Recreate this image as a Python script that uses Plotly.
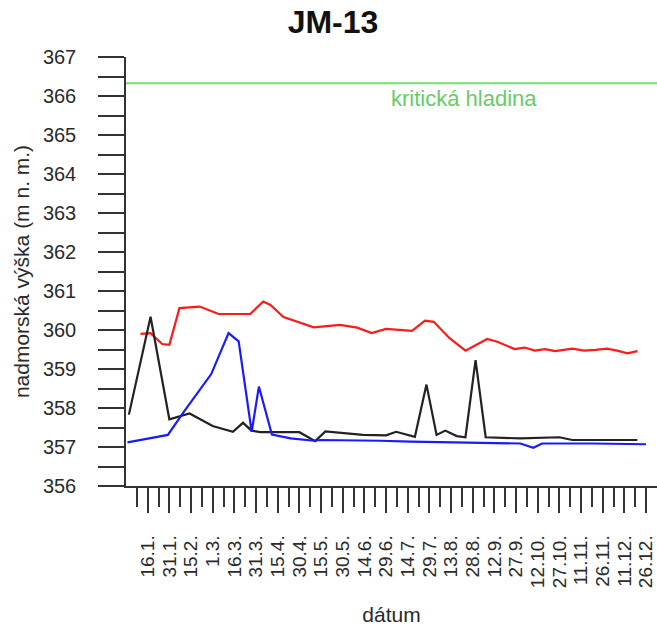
import pandas as pd
import plotly.graph_objects as go

# --- data -------------------------------------------------------------
red_dates = ["2016-01-11", "2016-01-18", "2016-01-26", "2016-01-31", "2016-02-07",
             "2016-02-21", "2016-03-05", "2016-03-27", "2016-04-05", "2016-04-10",
             "2016-04-19", "2016-05-10", "2016-05-28", "2016-06-09", "2016-06-19",
             "2016-06-29", "2016-07-17", "2016-07-26", "2016-08-01", "2016-08-12",
             "2016-08-23", "2016-09-07", "2016-09-14", "2016-09-26", "2016-10-03",
             "2016-10-10", "2016-10-17", "2016-10-24", "2016-11-05", "2016-11-13",
             "2016-11-21", "2016-11-29", "2016-12-06", "2016-12-13", "2016-12-20"]
red_values = [359.90, 359.92, 359.64, 359.62, 360.56,
              360.60, 360.41, 360.41, 360.73, 360.64,
              360.33, 360.07, 360.13, 360.06, 359.92,
              360.03, 359.98, 360.24, 360.21, 359.79,
              359.47, 359.77, 359.70, 359.51, 359.55,
              359.47, 359.51, 359.46, 359.52, 359.47,
              359.49, 359.52, 359.47, 359.40, 359.46]

black_dates = ["2016-01-03", "2016-01-18", "2016-01-31", "2016-02-14", "2016-03-01",
               "2016-03-15", "2016-03-22", "2016-03-28", "2016-04-03", "2016-04-30",
               "2016-05-11", "2016-05-18", "2016-06-13", "2016-06-29", "2016-07-06",
               "2016-07-19", "2016-07-27", "2016-08-03", "2016-08-09", "2016-08-17",
               "2016-08-23", "2016-08-30", "2016-09-06", "2016-09-30", "2016-10-27",
               "2016-11-05", "2016-12-20"]
black_values = [357.83, 360.34, 357.71, 357.86, 357.54,
                357.39, 357.62, 357.42, 357.38, 357.38,
                357.15, 357.40, 357.31, 357.30, 357.39,
                357.26, 358.60, 357.31, 357.42, 357.28,
                357.25, 359.23, 357.25, 357.22, 357.25,
                357.18, 357.18]

blue_dates = ["2016-01-02", "2016-01-20", "2016-01-30", "2016-02-10", "2016-02-29",
              "2016-03-12", "2016-03-19", "2016-03-28", "2016-04-02", "2016-04-11",
              "2016-04-24", "2016-05-10", "2016-05-15", "2016-06-25", "2016-07-16",
              "2016-09-30", "2016-10-09", "2016-10-15", "2016-11-19", "2016-12-26"]
blue_values = [357.12, 357.25, 357.31, 357.90, 358.87,
               359.92, 359.71, 357.39, 358.55, 357.32,
               357.22, 357.16, 357.18, 357.16, 357.14,
               357.09, 356.98, 357.09, 357.09, 357.07]

critical_level = 366.33
critical_label = "kritická hladina"

tick_labels = ["16.1.", "31.1.", "15.2.", "1.3.", "16.3.", "31.3.", "15.4.", "30.4.",
               "15.5.", "30.5.", "14.6.", "29.6.", "14.7.", "29.7.", "13.8.", "28.8.",
               "12.9.", "27.9.", "12.10.", "27.10.", "11.11.", "26.11.", "11.12.", "26.12."]
tick_dates = ["2016-01-16", "2016-01-31", "2016-02-15", "2016-03-01", "2016-03-16",
              "2016-03-31", "2016-04-15", "2016-04-30", "2016-05-15", "2016-05-30",
              "2016-06-14", "2016-06-29", "2016-07-14", "2016-07-29", "2016-08-13",
              "2016-08-28", "2016-09-12", "2016-09-27", "2016-10-12", "2016-10-27",
              "2016-11-11", "2016-11-26", "2016-12-11", "2016-12-26"]

# half-way ticks between the labelled ones
minor_ticks = [pd.Timestamp(d) - pd.Timedelta(hours=180) for d in tick_dates]

FONT = "Liberation Sans, Arial, sans-serif"
AXIS = "#333333"

fig = go.Figure()
fig.add_trace(go.Scatter(x=red_dates, y=red_values, mode="lines",
                         line=dict(color="#ff1a1a", width=2.2), showlegend=False))
fig.add_trace(go.Scatter(x=black_dates, y=black_values, mode="lines",
                         line=dict(color="#222222", width=2.2), showlegend=False))
fig.add_trace(go.Scatter(x=blue_dates, y=blue_values, mode="lines",
                         line=dict(color="#1a1aff", width=2.2), showlegend=False))

fig.add_shape(type="line", xref="paper", x0=0, x1=1, yref="y",
              y0=critical_level, y1=critical_level,
              line=dict(color="#77dd77", width=2))
fig.add_annotation(x="2016-08-22", y=critical_level, yref="y", xref="x",
                   text=critical_label, showarrow=False, yshift=-15,
                   font=dict(family=FONT, size=22, color="#66cc66"))

x_start = pd.Timestamp("2016-01-01")
x_end = x_start + pd.Timedelta(days=367.6)

fig.update_layout(
    width=657, height=628,
    margin=dict(l=126, r=0, t=57, b=142),
    paper_bgcolor="white", plot_bgcolor="white",
    font=dict(family=FONT, color="#2a2a2a", size=20),
    title=dict(text="<b>JM-13</b>", x=333 / 657, xanchor="center",
               y=1 - 22 / 628, yanchor="middle",
               font=dict(family=FONT, size=32, color="#111111")),
    xaxis=dict(
        type="date", range=[x_start, x_end],
        showgrid=False, zeroline=False,
        showline=True, linecolor=AXIS, linewidth=1.5,
        ticks="outside", ticklen=25, tickwidth=1.5, tickcolor=AXIS,
        tickmode="array", tickvals=tick_dates, ticktext=tick_labels,
        tickangle=-90, tickfont=dict(size=19),
        ticklabelstandoff=15,
        minor=dict(tickmode="array", tickvals=minor_ticks, ticks="outside",
                   ticklen=19, tickwidth=1.5, tickcolor=AXIS, showgrid=False),
        title=dict(text="dátum", font=dict(size=21), standoff=20),
    ),
    yaxis=dict(
        range=[356, 367],
        showgrid=False, zeroline=False,
        showline=True, linecolor=AXIS, linewidth=1.5,
        ticks="outside", ticklen=26, tickwidth=1.5, tickcolor=AXIS,
        tickmode="linear", tick0=356, dtick=1, tickfont=dict(size=20),
        ticklabelstandoff=18,
        minor=dict(tickmode="linear", tick0=356.5, dtick=1, ticks="outside",
                   ticklen=26, tickwidth=1.5, tickcolor=AXIS, showgrid=False),
        title=dict(text="nadmorská výška (m n. m.)", font=dict(size=21), standoff=8),
    ),
)

fig.write_html("out.html")
